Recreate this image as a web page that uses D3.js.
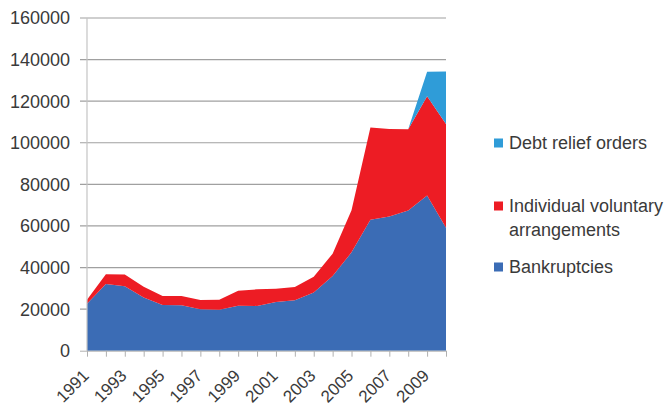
<!DOCTYPE html>
<html>
<head>
<meta charset="utf-8">
<script src="https://cdn.jsdelivr.net/npm/d3@7/dist/d3.min.js"></script>
<style>
  html, body { margin: 0; padding: 0; background: #fff; }
  svg { display: block; }
  text { font-family: "Liberation Sans", Arial, sans-serif; fill: #3a3a3a; }
</style>
</head>
<body>
<svg id="chart" width="667" height="416"></svg>
<script>
const years = [1991,1992,1993,1994,1995,1996,1997,1998,1999,2000,2001,2002,2003,2004,2005,2006,2007,2008,2009,2010];
const bankruptcies = [22632,32106,31016,25634,21933,21803,19892,19647,21611,21550,23477,24292,28021,35898,47291,62956,64480,67428,74670,59173];
const ivas = [1927,4686,5679,5103,4384,4466,4545,4902,7195,7978,6298,6295,7583,10752,20293,44332,42165,39116,47641,49895];
const dros = [0,0,0,0,0,0,0,0,0,0,0,0,0,0,0,0,0,0,11831,25179];
const yTicks = [0,20000,40000,60000,80000,100000,120000,140000,160000];
const xLabelYears = [1991,1993,1995,1997,1999,2001,2003,2005,2007,2009];
const seriesKeys = ["Bankruptcies","Individual voluntary arrangements","Debt relief orders"];
const seriesColors = ["#3b6cb5","#ed1c24","#2f9cd8"];

(function () {
const table = years.map((yr, i) => ({
  year: yr,
  "Bankruptcies": bankruptcies[i],
  "Individual voluntary arrangements": ivas[i],
  "Debt relief orders": dros[i]
}));

const svg = d3.select("#chart");
const pLeft = 87, pRight = 446, pTop = 18, pBottom = 350.7;

const x = d3.scalePoint().domain(years).range([pLeft, pRight]);
const y = d3.scaleLinear().domain([0, 160000]).range([pBottom, pTop]);

// gridlines
svg.append("g").selectAll("line").data(yTicks.filter(d => d > 0)).join("line")
  .attr("x1", pLeft - 7).attr("x2", pRight)
  .attr("y1", d => y(d)).attr("y2", d => y(d))
  .attr("stroke", "#a0a0a0").attr("stroke-width", 1.2);

// stacked areas
const stack = d3.stack().keys(seriesKeys);
const layers = stack(table);
const area = d3.area()
  .x(d => x(d.data.year))
  .y0(d => y(d[0]))
  .y1(d => y(d[1]));
svg.append("g").selectAll("path").data(layers).join("path")
  .attr("d", area)
  .attr("fill", (d, i) => seriesColors[i]);

// y axis line
svg.append("line").attr("x1", pLeft).attr("x2", pLeft).attr("y1", pTop).attr("y2", pBottom)
  .attr("stroke", "#c4c4c4").attr("stroke-width", 1.2);

// x axis
const xAxis = d3.axisBottom(x).tickSize(6).tickFormat("");
const gx = svg.append("g").attr("transform", `translate(0,${pBottom})`).call(xAxis);
gx.select(".domain").attr("d", `M${pLeft - 7},0.5H${pRight}`).attr("stroke", "#b0b0b0");
gx.selectAll(".tick line").attr("stroke", "#b0b0b0");

// y labels
svg.append("g").selectAll("text").data(yTicks).join("text")
  .attr("x", 70).attr("y", d => y(d))
  .attr("dy", "0.36em")
  .attr("text-anchor", "end")
  .attr("font-size", 18)
  .text(d => d);

// x labels
svg.append("g").selectAll("text").data(xLabelYears).join("text")
  .attr("text-anchor", "end")
  .attr("font-size", 17)
  .attr("transform", d => `translate(${x(d) + 3},${pBottom + 26}) rotate(-45)`)
  .text(d => d);

// legend
const legendItems = [
  { lines: ["Debt relief orders"], color: seriesColors[2], cy: 143 },
  { lines: ["Individual voluntary", "arrangements"], color: seriesColors[1], cy: 206 },
  { lines: ["Bankruptcies"], color: seriesColors[0], cy: 267 }
];
const lg = svg.append("g");
legendItems.forEach(item => {
  lg.append("rect").attr("x", 494).attr("y", item.cy - 4.5).attr("width", 9).attr("height", 9).attr("fill", item.color);
  item.lines.forEach((ln, j) => {
    lg.append("text").attr("x", 509).attr("y", item.cy + 6 + j * 24)
      .attr("font-size", 18).text(ln);
  });
});
})();
</script>
</body>
</html>
